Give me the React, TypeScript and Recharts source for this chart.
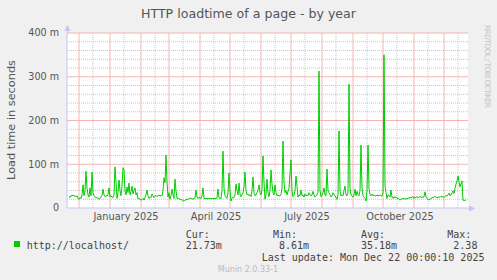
import React from "react";
import { LineChart, Line, XAxis, YAxis, CartesianGrid } from "recharts";

// Munin "http_loadtime" yearly graph, one point per day
const title = "HTTP loadtime of a page - by year";
const yLabel = "Load time in seconds";

const yTicks = [0, 100, 200, 300, 400];
const yMajor = [100, 200, 300, 400];
const yMinor = [20, 40, 60, 80, 120, 140, 160, 180, 220, 240, 260, 280, 320, 340, 360, 380];

// days counted from Nov 19 2024
const monthStarts = [12, 43, 74, 102, 133, 163, 194, 224, 255, 286, 316, 347, 377];
const midMonths = [26, 57, 88, 116, 147, 177, 208, 238, 269, 300, 330, 361, 391];
const labelDays = [59, 149, 240, 333];
const labelNames = ["January 2025", "April 2025", "July 2025", "October 2025"];

const firstDay = 2;
// load time in ms
const loadtimeMs = [
  26, 24, 29, 27, 30, 28, 27, 26, 28, 22,
  20, 24, 22, 30, 53, 28, 40, 84, 45, 30,
  25, 46, 28, 82, 35, 28, 26, 23, 24, 22,
  20, 22, 25, 28, 43, 30, 26, 28, 27, 30,
  46, 25, 28, 25, 24, 30, 94, 60, 22, 35,
  64, 40, 28, 50, 92, 88, 40, 30, 48, 35,
  57, 30, 38, 50, 32, 40, 46, 30, 35, 21,
  22, 20, 18, 19, 22, 18, 24, 30, 41, 28,
  22, 25, 24, 32, 28, 24, 27, 29, 26, 28,
  30, 27, 29, 28, 40, 69, 58, 121, 60, 25,
  35, 20, 28, 43, 30, 22, 66, 40, 22, 23,
  21, 20, 20, 18, 17, 15, 18, 19, 20, 20,
  21, 22, 23, 21, 20, 22, 23, 41, 25, 22,
  24, 23, 22, 28, 46, 22, 21, 22, 21, 22,
  21, 22, 22, 21, 22, 21, 22, 22, 23, 43,
  24, 22, 22, 40, 130, 45, 28, 25, 22, 35,
  80, 40, 16, 22, 25, 24, 30, 55, 40, 30,
  57, 32, 26, 30, 35, 50, 82, 40, 30, 32,
  28, 30, 26, 40, 71, 35, 28, 30, 35, 42,
  53, 35, 30, 40, 119, 60, 20, 30, 66, 35,
  26, 40, 87, 55, 35, 30, 53, 35, 28, 30,
  27, 28, 30, 45, 153, 60, 35, 40, 30, 38,
  45, 80, 110, 40, 26, 30, 40, 73, 50, 25,
  30, 28, 41, 28, 30, 25, 32, 28, 30, 28,
  35, 30, 28, 30, 38, 30, 25, 28, 30, 35,
  313, 40, 26, 30, 35, 46, 30, 28, 89, 40,
  35, 30, 25, 28, 35, 30, 28, 24, 20, 30,
  176, 40, 28, 30, 28, 40, 50, 30, 28, 35,
  283, 45, 30, 28, 25, 30, 43, 28, 38, 30,
  28, 40, 144, 45, 28, 25, 22, 16, 40, 144,
  45, 30, 28, 32, 28, 30, 28, 27, 30, 28,
  28, 30, 28, 27, 35, 350, 50, 35, 22, 30,
  28, 25, 41, 25, 22, 26, 24, 25, 22, 23,
  20, 18, 20, 21, 22, 21, 20, 22, 21, 22,
  23, 24, 23, 25, 26, 22, 25, 24, 26, 25,
  24, 27, 24, 25, 24, 26, 37, 25, 22, 20,
  18, 20, 22, 23, 25, 24, 27, 25, 23, 24,
  26, 24, 27, 26, 25, 24, 27, 28, 27, 30,
  34, 28, 30, 35, 39, 33, 45, 55, 62, 73,
  60, 48, 55, 62, 18, 17, 18, 18,
];

const legendName = "http://localhost/";
const legendHeads = ["Cur:", "Min:", "Avg:", "Max:"];
const legendValues = ["21.73m", " 8.61m", "35.18m", " 2.38"];
const lastUpdate = "Last update: Mon Dec 22 00:00:10 2025";

const data = loadtimeMs.map((ms, i) => ({ day: firstDay + i, ms }));

const green = "#00cc00";
const majorGrid = "#f6b4b4";
const minorGrid = "#b8b8b8";
const axisColor = "#c4c4f4";
const textColor = "#555555";
const mono = "'DejaVu Sans Mono', monospace";
const sans = "'DejaVu Sans', sans-serif";
const legendX = [185.7, 273, 361, 447.3];

export default function App() {
  return (
    <div
      style={{
        position: "absolute",
        left: 0,
        top: 0,
        width: 497,
        height: 280,
        background: "#f0f0f0",
        overflow: "hidden",
      }}
    >
      <LineChart
        width={497}
        height={280}
        data={data}
        margin={{ top: 33, right: 29, bottom: 52, left: 7 }}
      >
        {/* minor grid (gray dotted) then major grid (pink) */}
        <CartesianGrid
          fill="#ffffff"
          stroke={minorGrid}
          strokeDasharray="1 1"
          strokeOpacity={0.8}
          verticalValues={midMonths}
          horizontalValues={yMinor}
        />
        <CartesianGrid
          stroke={majorGrid}
          verticalValues={monthStarts}
          horizontalValues={yMajor}
        />
        <XAxis
          type="number"
          dataKey="day"
          domain={[0, 401]}
          ticks={labelDays}
          interval={0}
          tickFormatter={(d) => labelNames[labelDays.indexOf(d)]}
          tickLine={false}
          tickSize={0}
          tickMargin={5}
          height={20}
          axisLine={{ stroke: axisColor }}
          tick={{ fill: textColor, fontSize: 9.8, fontFamily: sans }}
        />
        <YAxis
          type="number"
          domain={[0, 400]}
          ticks={yTicks}
          interval={0}
          tickFormatter={(v) => (v === 0 ? "0" : `${v} m`)}
          tickLine={false}
          tickSize={0}
          tickMargin={8}
          width={60}
          axisLine={{ stroke: axisColor }}
          tick={{ fill: textColor, fontSize: 9.6, fontFamily: sans }}
        />
        <Line
          type="linear"
          dataKey="ms"
          stroke={green}
          strokeWidth={1}
          dot={false}
          isAnimationActive={false}
        />
      </LineChart>

      <svg
        width={497}
        height={280}
        style={{ position: "absolute", left: 0, top: 0, pointerEvents: "none" }}
      >
        {/* axis arrows */}
        <line x1={67.5} y1={33} x2={67.5} y2={28} stroke={axisColor} />
        <polygon points="64.5,31 67.5,25 70.5,31" fill={axisColor} />
        <line x1={468} y1={208.5} x2={471} y2={208.5} stroke={axisColor} />
        <polygon points="469,205.5 475,208.5 469,211.5" fill={axisColor} />

        <text x={248.5} y={18} textAnchor="middle" fontSize={12.6} fontFamily={sans} fill={textColor}>
          {title}
        </text>
        <text
          x={15.3}
          y={120}
          transform="rotate(-90 15.3 120)"
          textAnchor="middle"
          fontSize={11.3}
          fontFamily={sans}
          fill={textColor}
        >
          {yLabel}
        </text>
        <text
          x={485}
          y={25}
          transform="rotate(90 485 25)"
          fontSize={7.5}
          fontFamily={sans}
          fill="#c4c4c4"
          textLength={83}
          lengthAdjust="spacing"
        >
          RRDTOOL / TOBI OETIKER
        </text>

        <rect x={14} y={241} width={6} height={6} fill={green} />
        <text x={26.7} y={248.5} fontSize={10} fontFamily={mono} fill="#444">
          {legendName}
        </text>
        {legendHeads.map((h, i) => (
          <text key={h} x={legendX[i]} y={237.5} fontSize={10} fontFamily={mono} fill="#444" style={{ whiteSpace: "pre" }}>
            {h}
          </text>
        ))}
        {legendValues.map((v, i) => (
          <text key={i} x={legendX[i]} y={248.5} fontSize={10} fontFamily={mono} fill="#444" style={{ whiteSpace: "pre" }}>
            {v}
          </text>
        ))}
        <text x={261.7} y={261} fontSize={10} fontFamily={mono} fill="#444">
          {lastUpdate}
        </text>
        <text x={248} y={272} textAnchor="middle" fontSize={8} fontFamily={sans} fill="#bbbbbb">
          Munin 2.0.33-1
        </text>
      </svg>
    </div>
  );
}
